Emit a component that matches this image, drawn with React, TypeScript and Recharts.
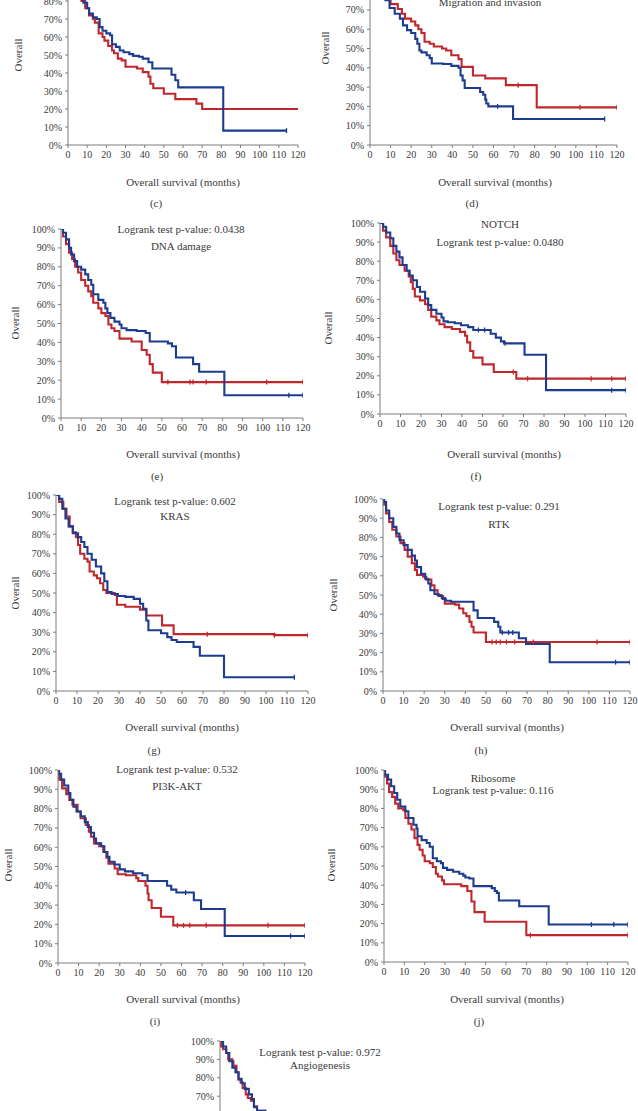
import React from 'react';
import { ComposedChart, Line, XAxis, YAxis } from 'recharts';

type Pt = [number, number];

const monthTicks = [0, 10, 20, 30, 40, 50, 60, 70, 80, 90, 100, 110, 120];
const pctTicks = [0, 10, 20, 30, 40, 50, 60, 70, 80, 90, 100];
// panels cut by the page edge: only the ticks that show are labelled
const pctTicksC = [0, 10, 20, 30, 40, 50, 60, 70, 80];
const pctTicksD = [0, 10, 20, 30, 40, 50, 60, 70];
const pctTicksK = [70, 80, 90, 100];

// (c)
const cRed: Pt[] = [[0,100],[2,95],[4,89],[6,82],[7,80],[9,76],[11,72],[13,70],[14,68],[16,62],[18,60],[19,58],[21,55],[23,52.5],[24,51],[26,48],[28,47],[30,43.5],[36,42.5],[39,40.5],[42,38],[43,34],[44.5,31.5],[50,28.5],[56,25.5],[67,23],[70,20],[120,20]];
const cBlue: Pt[] = [[0,100],[2,96],[4,90],[6,82],[8,79],[10,76],[11,73],[13,71],[15,70],[16.5,65.5],[18,63.5],[20,62],[22,61],[23,56],[25,54.5],[27,52.5],[29,51.5],[32,50.5],[34,49.5],[37,49],[39,48],[42,46],[44,42.5],[54,39],[56,36],[57.5,32],[81,8],[114,8]];
const cRedCensor: number[] = [];
const cBlueCensor = [114];

// (d) Migration and invasion
const dRed: Pt[] = [[0,100],[2,96],[4,90],[6,84],[8,77],[10,73],[13.5,70.5],[15.5,68],[17,65.5],[20,64],[22,62],[23.5,60],[25,58],[26.5,53.5],[29,52.5],[31,51],[35,50],[37,49],[39.5,46.5],[43,44.5],[44.5,40.5],[50,36],[56,34.5],[66,31],[81,19.5],[120,19.5]];
const dBlue: Pt[] = [[0,100],[1.5,96],[3,91],[5,84],[6,79],[7.5,75],[9.5,71],[12,68],[14.5,65.5],[16,62],[18,59.5],[20,58],[22,55],[23,52.5],[24,49],[25,48],[27.5,46.5],[29,45],[30,42.2],[35.5,42],[39.5,41],[43,40],[44,36],[45,33.5],[46,29.5],[53.5,27.5],[55,26],[56,23.5],[56.5,21.5],[57.5,20],[69.5,13.5],[114,13.5]];
const dRedCensor = [72, 102, 120];
const dBlueCensor = [62, 114];

// (e) DNA damage
const eRed: Pt[] = [[0,100],[1,96],[2.5,92],[4,87.5],[5.5,84],[7,80],[8.5,77],[10,73],[12,70],[13.5,67],[15,64.5],[16,61],[18.5,58],[20,55.5],[22,54],[23.5,49.5],[25,47.5],[26.5,46],[29,42],[35,40.5],[40,36],[42.5,33.5],[44,28.5],[45.5,24],[50,19],[120,19]];
const eBlue: Pt[] = [[0,100],[1,98],[2.5,94.5],[4,90],[5,86.5],[6.5,83],[8,80],[10,78.5],[12,76],[13.5,73],[15,70.5],[16,65.5],[18.5,62.5],[21,61],[22,58],[23,55.5],[24.5,53],[26.5,51],[29,49.5],[30,47.5],[32.5,46.5],[37.5,46],[42,45],[44,40.5],[53,39.5],[55,38],[57,32],[65.5,28.5],[68.5,24.5],[81,12],[120,12]];
const eRedCensor = [53, 64, 65.5, 72, 102, 120];
const eBlueCensor = [113, 120];

// (f) NOTCH
const fRed: Pt[] = [[0,100],[1.5,96],[3,92.5],[5,88],[6.5,84],[8,80.5],[9.5,78],[12,75],[14,72],[15,69],[16,65.5],[17,61.5],[19.5,59.5],[22,57.5],[23.5,54.5],[25,51],[27.5,49],[29,47],[31.5,45.5],[35,44.5],[39,43],[41.5,41],[42.5,37.5],[44,33],[45.5,29.5],[50,26],[55.5,22],[66.5,18.5],[120,18.5]];
const fBlue: Pt[] = [[0,100],[1.5,98],[3,95],[5,92],[6.5,88],[8,85],[9.5,82],[11,78],[13,75],[14.5,72.5],[16,70],[18,66.5],[19.5,64],[22,60.5],[23.5,57],[25,54.5],[27.5,52.5],[30,50.5],[31,48.5],[33,48],[36.5,47.5],[39.5,46.5],[43,45.5],[45.5,44],[54,42],[56.5,40],[59,38],[60.5,37],[70.5,31],[81,12.5],[120,12.5]];
const fRedCensor = [65, 72, 103, 113, 120];
const fBlueCensor = [48, 51, 61, 113, 120];

// (g) KRAS
const gRed: Pt[] = [[0,100],[1.5,96.5],[3.5,93],[5,89],[6.5,84],[8,81],[9.5,78.5],[10.5,74.5],[11.5,70],[13.5,67.5],[15,66],[16,61],[18,59],[19.5,57.5],[21,55],[22.5,51.5],[24,50],[28,49],[29,44],[33,43],[40,41.5],[43,38.5],[50.5,33.5],[56,29],[104,28.5],[120,28.5]];
const gBlue: Pt[] = [[0,100],[1.5,98],[3,93],[4.5,88],[6,84],[8,80.5],[10.5,78.5],[12,76],[13.5,73.5],[15,70],[17,67],[19,63.5],[21.5,60],[23,56],[24.5,50.5],[26.5,49.5],[29.5,48.5],[33,48],[37,47],[40,44.5],[41.5,42],[43,36],[44,31],[50,29.5],[53,27.5],[55,26],[57.5,25],[65.5,22.5],[68.5,18],[80,7],[113.5,7]];
const gRedCensor = [72, 104, 120];
const gBlueCensor = [113.5];

// (h) RTK
const hRed: Pt[] = [[0,100],[0.5,97],[1.5,92.5],[3,88],[4.5,84],[6.5,80.5],[8.5,77],[10.5,73.5],[12,70],[14,66.5],[15.5,63],[16.5,60.5],[19.5,59.5],[21,58],[23.5,55],[25,52.5],[26.5,50],[28.5,48.5],[30,45.5],[35,45],[37,43],[39,40.5],[40.5,39],[42,36],[43,33.5],[44,30.5],[50,25.5],[120,25.5]];
const hBlue: Pt[] = [[0,100],[0.5,98.5],[1.5,94],[3,90],[5,85.5],[6.5,82],[8,78.5],[10,76],[12,73.5],[14,70.5],[15.5,68],[16.5,64.5],[18.5,61],[20.5,58.5],[22,56],[23,52.5],[25,50.5],[27,49.5],[29,48],[30.5,47],[33,46.5],[44,42],[46,38],[54,36],[56,33.5],[57,30.5],[66,27.5],[69.5,24.5],[81,15],[120,15]];
const hRedCensor = [53, 55, 57, 60, 64, 73, 104, 120];
const hBlueCensor = [58, 61, 63, 113, 120];

// (i) PI3K-AKT
const iRed: Pt[] = [[0,100],[0.5,95],[2,90.5],[4,87.5],[5.5,84.5],[7,82],[9.5,78.5],[11,75],[13.5,71.5],[15,68],[16,65.5],[17.5,62],[20,60.5],[22,57.5],[23.5,54.5],[24.5,51.5],[27.5,49],[29,46],[33,45.5],[38,44],[39,42.5],[42.5,40],[43.5,36],[44,32.5],[45.5,28.5],[50,24],[56,19.5],[120,19.5]];
const iBlue: Pt[] = [[0,100],[0.5,98],[1.5,95],[3,92],[5,88],[6,84.5],[7.5,81],[9,78.5],[11,76],[13,73],[14.5,70.5],[16,67.5],[17.5,64.5],[18.5,62],[21,60.5],[22.5,57.5],[24,55],[25,52.5],[27.5,51],[30,48.5],[32.5,47.5],[36.5,46.5],[41,45.5],[43.5,42.5],[53,40],[55,38],[57.5,36.5],[66,32.5],[69.5,28],[81,14],[120,14]];
const iRedCensor = [58, 61, 64, 72, 102, 120];
const iBlueCensor = [62, 113, 120];

// (j) Ribosome
const jRed: Pt[] = [[0,100],[0.5,96.5],[1.5,93],[2.5,88.5],[4,86],[5.5,82.5],[7,80],[9.5,79],[10.5,75],[12,72],[13.5,69],[15,64.5],[16.5,61],[17.5,58.5],[19,55.5],[20,52.5],[22.5,51.5],[24,49.5],[25.5,46],[26.5,44.5],[28.5,42.5],[29.5,40.5],[38,39.5],[41,37],[43,31.5],[44.5,26],[49.5,21],[70,14],[120,14]];
const jBlue: Pt[] = [[0,100],[0.5,97.5],[2,95],[3.5,91.5],[5,88],[6.5,84.5],[8,81],[10.5,78.5],[12,75],[14.5,71.5],[16,69.5],[16.5,65.5],[18.5,63.5],[21,62],[22.5,60],[24,54],[26,52.5],[28,51.5],[29,49],[31,48],[34,47],[37,46],[39,45],[40,44],[42,43.5],[44,39.5],[53,38.5],[54.5,37],[55.5,36],[56.5,32],[66.5,29],[81,19.5],[120,19.5]];
const jRedCensor = [72, 120];
const jBlueCensor = [102, 113, 120];

// (k) Angiogenesis
const kRed: Pt[] = [[0,100],[0.5,97],[1.5,95.5],[3,93.5],[4,90],[6,89],[6.5,86.5],[8,83],[9,79],[10,77.5],[11,74.5],[12.5,71],[13.5,69],[15,67.5],[16.5,64.5],[18,62],[22,57],[28,50],[40,42],[55,32],[80,25],[120,25]];
const kBlue: Pt[] = [[0,100],[1.5,97],[3,93.5],[4.5,89],[6,85.5],[7.5,83],[9,79.5],[10.5,77],[12,74],[14,71],[15.5,68.5],[16.5,64],[18,62],[22,58],[28,51],[40,44],[55,35],[80,22],[120,22]];
const kRedCensor: number[] = [];
const kBlueCensor: number[] = [];

const SERIF = "'Liberation Serif', 'DejaVu Serif', 'Times New Roman', serif";
const RED = '#c0272d';
const BLUE = '#1d3c8f';
const AXIS = '#7d7d7d';
const TEXT = '#3a3a3a';

const LEFT = 40;
const TOP = 8;
const RIGHT = 14;
const XAXIS_H = 22;

interface Box { x0: number; x120: number; y100: number; y0: number }

function withCensor(steps: Pt[], censor: number[]) {
  const rows = steps.map(([t, s]) => ({ t, s, c: false }));
  censor.forEach((t) => {
    let level = steps[0][1];
    steps.forEach(([st, ss]) => { if (st <= t) level = ss; });
    rows.push({ t, s: level, c: true });
  });
  return rows.sort((a, b) => a.t - b.t || (a.c ? 1 : -1));
}

const censorDot = (color: string) => (props: any) => {
  const { cx, cy, payload, index } = props;
  if (!payload || !payload.c) return <g key={`n${index}`} />;
  return <line key={`c${index}`} x1={cx} x2={cx} y1={cy - 2.5} y2={cy + 2.5} stroke={color} strokeWidth={1.3} />;
};

function KMPanel({ box, red, blue, redCensor, blueCensor, yTicks = pctTicks, xLabels = true }: { box: Box; red: Pt[]; blue: Pt[]; redCensor: number[]; blueCensor: number[]; yTicks?: number[]; xLabels?: boolean }) {
  const w = box.x120 - box.x0 + LEFT + RIGHT;
  const h = box.y0 - box.y100 + TOP + XAXIS_H;
  const redData = withCensor(red, redCensor);
  const blueData = withCensor(blue, blueCensor);
  const tick = { fill: TEXT, fontSize: 10, fontFamily: SERIF };
  return (
    <div style={{ position: 'absolute', left: box.x0 - LEFT, top: box.y100 - TOP }}>
      <ComposedChart width={w} height={h} margin={{ top: TOP, right: RIGHT, bottom: 0, left: 0 }}>
        <XAxis
          type="number"
          dataKey="t"
          domain={[0, 120]}
          ticks={monthTicks}
          allowDataOverflow
          height={XAXIS_H}
          tickSize={3}
          tickMargin={3}
          tick={xLabels ? tick : false}
          stroke={AXIS}
          interval={0}
        />
        <YAxis
          type="number"
          dataKey="s"
          domain={[0, 100]}
          ticks={yTicks}
          allowDataOverflow
          width={LEFT}
          tickSize={3}
          tickMargin={3}
          tick={tick}
          stroke={AXIS}
          interval={0}
          tickFormatter={(v) => `${v}%`}
        />
        <Line data={redData} dataKey="s" type="stepAfter" stroke={RED} strokeWidth={2.1} dot={censorDot(RED)} activeDot={false} isAnimationActive={false} />
        <Line data={blueData} dataKey="s" type="stepAfter" stroke={BLUE} strokeWidth={2.1} dot={censorDot(BLUE)} activeDot={false} isAnimationActive={false} />
      </ComposedChart>
    </div>
  );
}

const texts: { text: string; x: number; y: number; rot?: boolean }[] = [
  { text: 'Migration and invasion', x: 490, y: 2 },
  { text: 'Logrank test p-value: 0.0438', x: 181, y: 229 },
  { text: 'DNA damage', x: 181, y: 246 },
  { text: 'NOTCH', x: 500, y: 224 },
  { text: 'Logrank test p-value: 0.0480', x: 500, y: 242 },
  { text: 'Logrank test p-value: 0.602', x: 175, y: 501 },
  { text: 'KRAS', x: 175, y: 516 },
  { text: 'Logrank test p-value: 0.291', x: 499, y: 506 },
  { text: 'RTK', x: 499, y: 524 },
  { text: 'Logrank test p-value: 0.532', x: 177, y: 769 },
  { text: 'PI3K-AKT', x: 177, y: 786 },
  { text: 'Ribosome', x: 493, y: 778 },
  { text: 'Logrank test p-value: 0.116', x: 493, y: 790 },
  { text: 'Logrank test p-value: 0.972', x: 320, y: 1052 },
  { text: 'Angiogenesis', x: 320, y: 1065 },
  { text: 'Overall survival (months)', x: 183, y: 182 },
  { text: 'Overall survival (months)', x: 495, y: 182 },
  { text: 'Overall survival (months)', x: 183, y: 454 },
  { text: 'Overall survival (months)', x: 504, y: 454 },
  { text: 'Overall survival (months)', x: 182, y: 727 },
  { text: 'Overall survival (months)', x: 507, y: 727 },
  { text: 'Overall survival (months)', x: 183, y: 999 },
  { text: 'Overall survival (months)', x: 507, y: 999 },
  { text: '(c)', x: 156, y: 203 },
  { text: '(d)', x: 472, y: 203 },
  { text: '(e)', x: 157, y: 476 },
  { text: '(f)', x: 476, y: 476 },
  { text: '(g)', x: 154, y: 750 },
  { text: '(h)', x: 481, y: 750 },
  { text: '(i)', x: 155, y: 1021 },
  { text: '(j)', x: 479, y: 1021 },
  { text: 'Overall', x: 18, y: 55, rot: true },
  { text: 'Overall', x: 325, y: 48, rot: true },
  { text: 'Overall', x: 15, y: 323, rot: true },
  { text: 'Overall', x: 328, y: 328, rot: true },
  { text: 'Overall', x: 15, y: 593, rot: true },
  { text: 'Overall', x: 333, y: 595, rot: true },
  { text: 'Overall', x: 8, y: 865, rot: true },
  { text: 'Overall', x: 331, y: 865, rot: true },
];

export default function App() {
  return (
    <div style={{ position: 'absolute', left: 0, top: 0, width: 638, height: 1111, overflow: 'hidden', background: '#fff', fontFamily: SERIF }}>
      <KMPanel box={{ x0: 68, x120: 298, y100: -35, y0: 145 }} red={cRed} blue={cBlue} redCensor={cRedCensor} blueCensor={cBlueCensor} yTicks={pctTicksC} />
      <KMPanel box={{ x0: 370, x120: 617, y100: -48, y0: 145 }} red={dRed} blue={dBlue} redCensor={dRedCensor} blueCensor={dBlueCensor} yTicks={pctTicksD} />
      <KMPanel box={{ x0: 61, x120: 303, y100: 229, y0: 418 }} red={eRed} blue={eBlue} redCensor={eRedCensor} blueCensor={eBlueCensor} />
      <KMPanel box={{ x0: 380, x120: 626, y100: 223, y0: 414 }} red={fRed} blue={fBlue} redCensor={fRedCensor} blueCensor={fBlueCensor} />
      <KMPanel box={{ x0: 56, x120: 308, y100: 495, y0: 691 }} red={gRed} blue={gBlue} redCensor={gRedCensor} blueCensor={gBlueCensor} />
      <KMPanel box={{ x0: 383, x120: 630, y100: 499, y0: 691 }} red={hRed} blue={hBlue} redCensor={hRedCensor} blueCensor={hBlueCensor} />
      <KMPanel box={{ x0: 58, x120: 305, y100: 770, y0: 963 }} red={iRed} blue={iBlue} redCensor={iRedCensor} blueCensor={iBlueCensor} />
      <KMPanel box={{ x0: 384, x120: 628, y100: 770, y0: 962 }} red={jRed} blue={jBlue} redCensor={jRedCensor} blueCensor={jBlueCensor} />
      <KMPanel box={{ x0: 220, x120: 467, y100: 1041, y0: 1225 }} red={kRed} blue={kBlue} redCensor={kRedCensor} blueCensor={kBlueCensor} yTicks={pctTicksK} xLabels={false} />
      {texts.map((t, i) => (
        <div
          key={i}
          style={{
            position: 'absolute',
            left: t.x,
            top: t.y,
            transform: t.rot ? 'translate(-50%, -50%) rotate(-90deg)' : 'translate(-50%, -50%)',
            whiteSpace: 'nowrap',
            fontSize: 11,
            lineHeight: '13px',
            color: TEXT,
          }}
        >
          {t.text}
        </div>
      ))}
    </div>
  );
}
